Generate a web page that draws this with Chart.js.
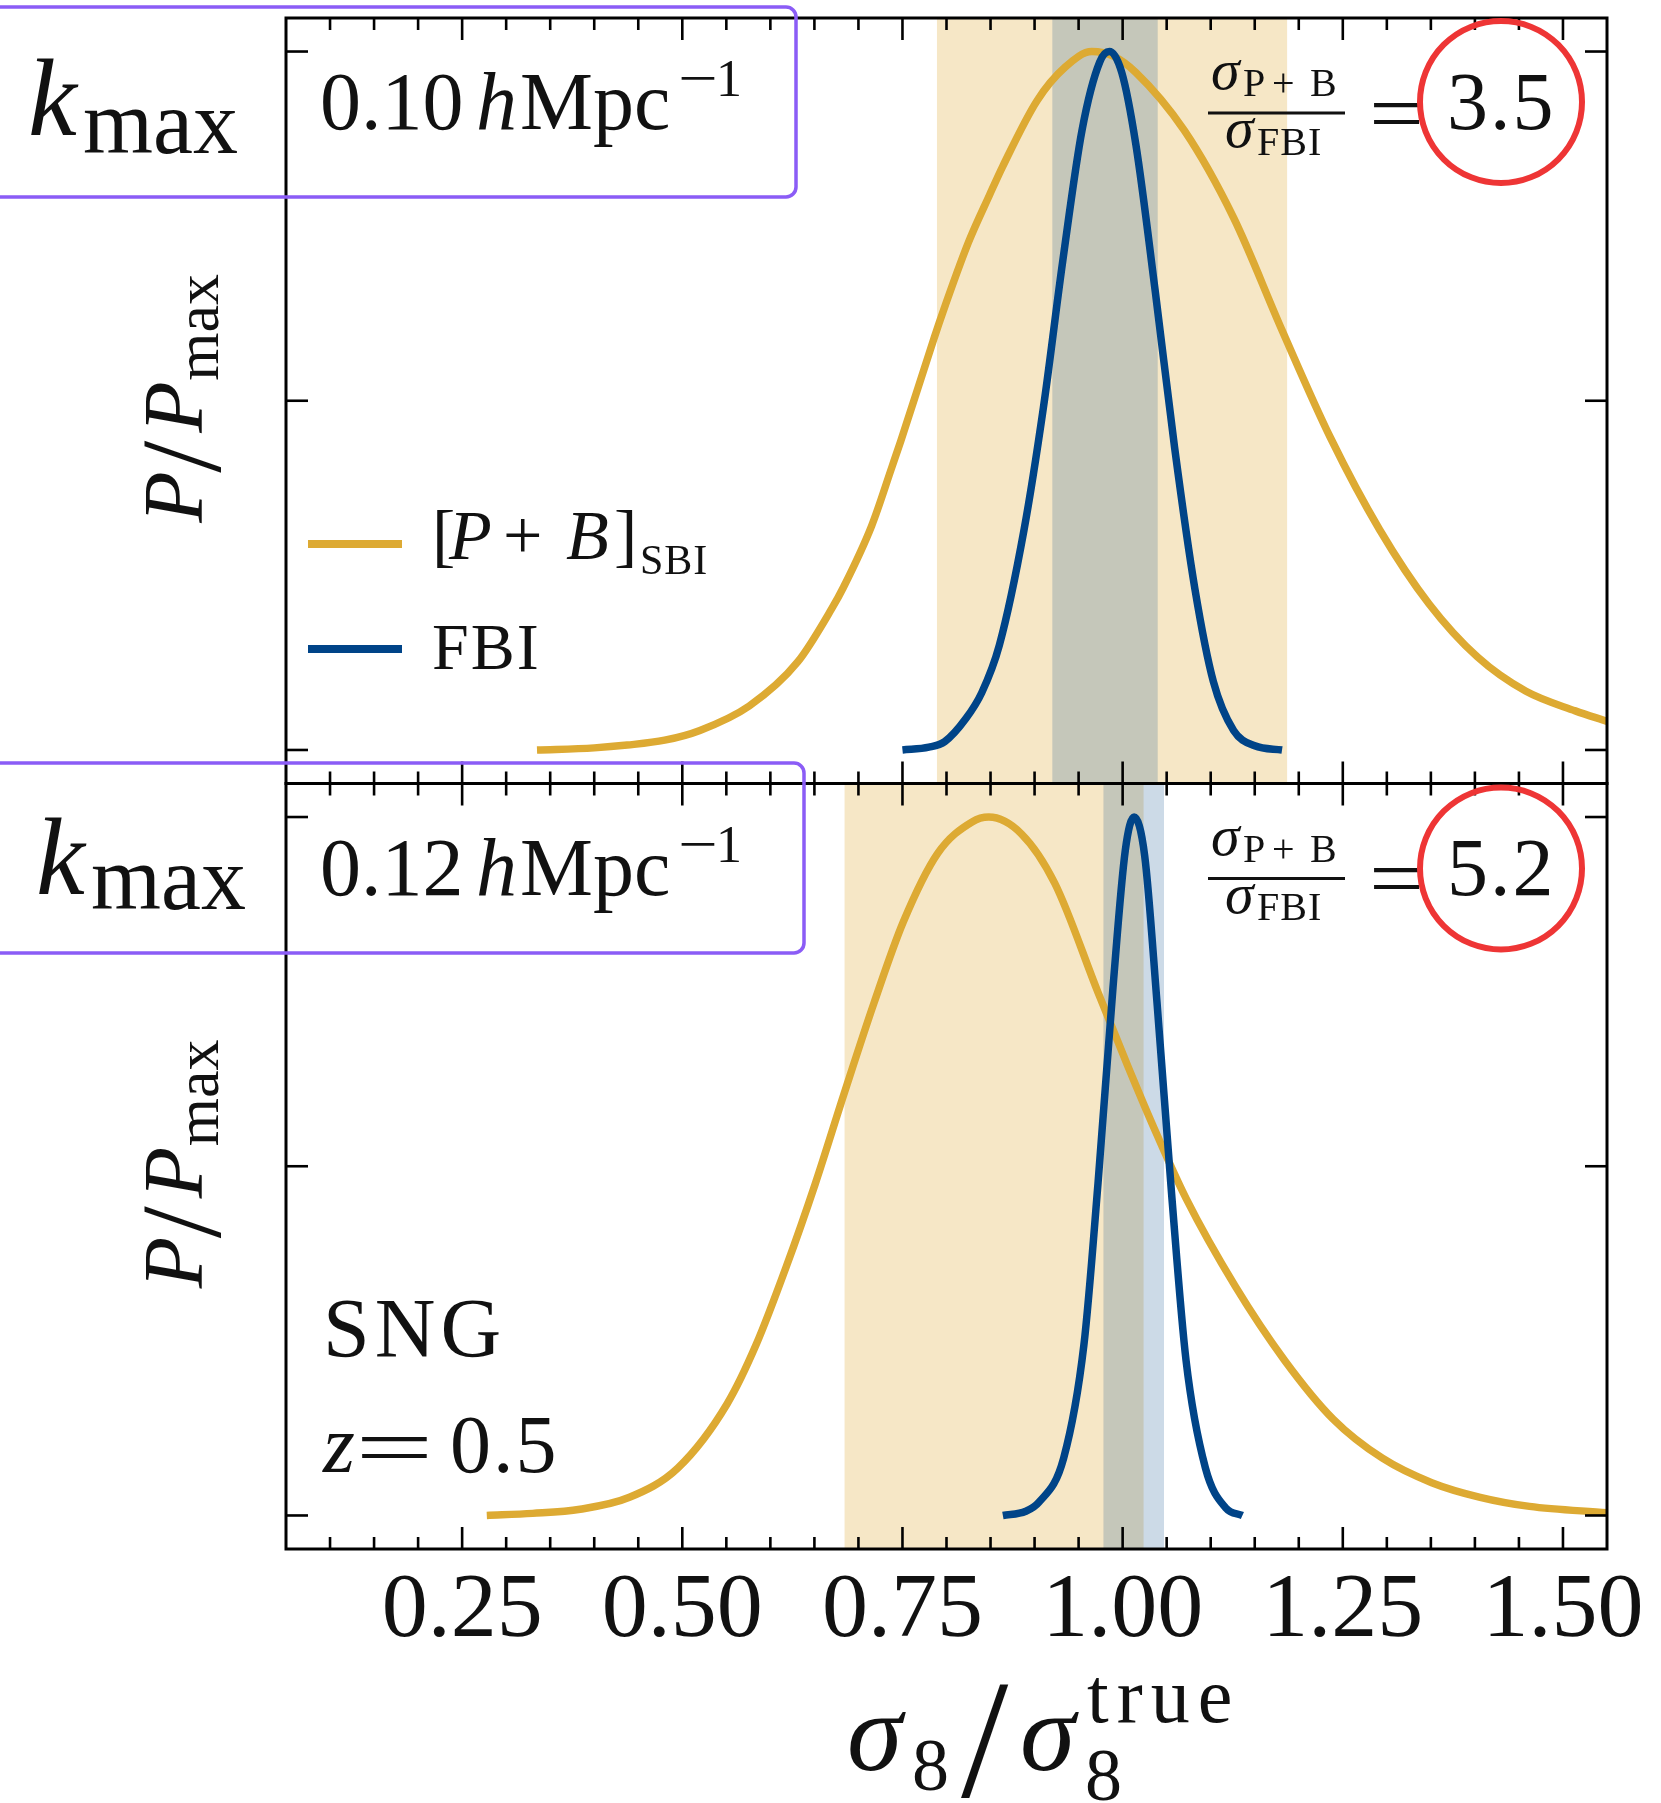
<!DOCTYPE html>
<html><head><meta charset="utf-8">
<script src="https://cdn.jsdelivr.net/npm/chart.js@4.4.1/dist/chart.umd.min.js"></script>
<style>html,body{margin:0;padding:0;background:#fff}canvas{display:block}</style>
</head><body>
<canvas id="c" width="1661" height="1803"></canvas>
<script>
// ---------- data ----------
const X_MIN = 0.05, X_MAX = 1.55, X_STEP = 0.05, X_MAJOR = 0.25;
const Y_MIN = -0.048, Y_MAX = 1.048;
const xLabelValues = [0.25, 0.50, 0.75, 1.00, 1.25, 1.50];
const yTickValues = [0, 0.5, 1];

const kmaxValues = ['0.10', '0.12'];
const ratioValues = ['3.5', '5.2'];
const seriesNames = ['[P+B]SBI', 'FBI'];

// top panel (k_max = 0.10)
const topSbiX = [0.335,0.40,0.4375,0.48,0.52,0.576,0.631,0.670,0.683,0.715,0.738,0.748,0.786,0.794,0.825,0.849,0.864,0.903,0.935,0.965,0.99,1.015,1.07,1.126,1.181,1.236,1.292,1.348,1.403,1.458,1.514,1.55];
const topSbiY = [0.000,0.003,0.007,0.014,0.028,0.063,0.126,0.203,0.233,0.321,0.405,0.442,0.590,0.620,0.727,0.795,0.836,0.930,0.978,1.000,0.993,0.970,0.887,0.762,0.601,0.447,0.315,0.209,0.133,0.084,0.056,0.041];
const topFbiX = [0.750,0.780,0.798,0.822,0.840,0.860,0.888,0.910,0.932,0.954,0.974,0.985,0.999,1.015,1.037,1.059,1.082,1.103,1.126,1.150,1.181];
const topFbiY = [0.000,0.004,0.012,0.045,0.082,0.150,0.315,0.490,0.700,0.888,0.985,1.000,0.970,0.867,0.657,0.433,0.231,0.098,0.028,0.006,0.000];
const topSbiBand = [0.789, 1.187];
const topFbiBand = [0.920, 1.040];

// bottom panel (k_max = 0.12)
const botSbiX = [0.278,0.330,0.384,0.440,0.495,0.551,0.584,0.618,0.651,0.684,0.718,0.751,0.790,0.829,0.848,0.885,0.923,0.972,1.006,1.039,1.072,1.128,1.184,1.239,1.295,1.351,1.406,1.462,1.550];
const botSbiY = [0.000,0.003,0.009,0.026,0.068,0.160,0.245,0.356,0.475,0.605,0.735,0.850,0.948,0.993,1.000,0.976,0.905,0.749,0.643,0.545,0.454,0.328,0.222,0.138,0.082,0.047,0.026,0.013,0.004];
const botFbiX = [0.864,0.890,0.905,0.933,0.956,0.972,0.989,1.003,1.013,1.025,1.039,1.056,1.072,1.094,1.117,1.136];
const botFbiY = [0.000,0.006,0.019,0.082,0.244,0.475,0.755,0.952,1.000,0.945,0.735,0.454,0.222,0.068,0.011,0.000];
const botSbiBand = [0.684, 1.024];
const botFbiBand = [0.978, 1.047];

// ---------- styles ----------
const YELLOW = '#DDAA33', BLUE = '#004488';
const YELLOW_BAND = 'rgba(221,170,51,0.28)', BLUE_BAND = 'rgba(0,68,136,0.20)';
const FONT = '"Liberation Serif", "DejaVu Serif", serif';

function pts(xs, ys) { return xs.map((x, i) => ({x: x, y: ys[i]})); }
function bandPts(r) { return [{x: r[0], y: Y_MAX}, {x: r[1], y: Y_MAX}]; }

function curve(label, xs, ys, color, axis, order) {
  return {label, data: pts(xs, ys), yAxisID: axis, borderColor: color, borderWidth: 7.5,
    pointRadius: 0, fill: false, cubicInterpolationMode: 'monotone', order, borderJoinStyle: 'round'};
}
function band(r, color, axis, order) {
  return {label: 'band', data: bandPts(r), yAxisID: axis, borderColor: 'rgba(0,0,0,0)', borderWidth: 0,
    pointRadius: 0, backgroundColor: color, fill: {value: Y_MIN}, order, tension: 0};
}

const datasets = [
  band(topSbiBand, YELLOW_BAND, 'yTop', 10),
  band(topFbiBand, BLUE_BAND, 'yTop', 9),
  curve(seriesNames[0], topSbiX, topSbiY, YELLOW, 'yTop', 2),
  curve(seriesNames[1], topFbiX, topFbiY, BLUE, 'yTop', 1),
  band(botSbiBand, YELLOW_BAND, 'yBot', 10),
  band(botFbiBand, BLUE_BAND, 'yBot', 9),
  curve(seriesNames[0], botSbiX, botSbiY, YELLOW, 'yBot', 2),
  curve(seriesNames[1], botFbiX, botFbiY, BLUE, 'yBot', 1),
];

// ---------- drawing helpers ----------
function T(ctx, s, x, y, size, opt) {
  opt = opt || {};
  ctx.font = (opt.italic ? 'italic ' : '') + size + 'px ' + FONT;
  ctx.textAlign = opt.align || 'left';
  ctx.textBaseline = 'alphabetic';
  if ('letterSpacing' in ctx) ctx.letterSpacing = (opt.ls || 0) + 'px';
  ctx.fillStyle = '#111';
  if (opt.sx) { ctx.save(); ctx.translate(x, y); ctx.scale(opt.sx, 1); ctx.fillText(s, 0, 0); ctx.restore(); }
  else ctx.fillText(s, x, y);
  if ('letterSpacing' in ctx) ctx.letterSpacing = '0px';
}
// "=" sign fitted to a horizontal span and centred on cy
function EQ(ctx, x1, x2, cy, size) {
  ctx.font = size + 'px ' + FONT;
  ctx.textAlign = 'left';
  ctx.textBaseline = 'alphabetic';
  ctx.fillStyle = '#111';
  const m = ctx.measureText('=');
  const gw = (m.actualBoundingBoxLeft + m.actualBoundingBoxRight) || (size * 0.56);
  const mid = (m.actualBoundingBoxAscent - m.actualBoundingBoxDescent) / 2;
  ctx.save();
  ctx.translate(x1, cy + mid);
  ctx.scale((x2 - x1) / gw, 1);
  ctx.fillText('=', m.actualBoundingBoxLeft, 0);
  ctx.restore();
}
function seg(ctx, x1, y1, x2, y2) { ctx.beginPath(); ctx.moveTo(x1, y1); ctx.lineTo(x2, y2); ctx.stroke(); }
function isMajor(v) { return Math.abs(v / X_MAJOR - Math.round(v / X_MAJOR)) < 1e-6; }

const decor = {
  id: 'decor',
  afterDraw(chart) {
    const ctx = chart.ctx;
    const xs = chart.scales.x;
    const panels = [chart.scales.yTop, chart.scales.yBot];
    const L = xs.left, R = xs.right;
    ctx.save();
    ctx.strokeStyle = '#000';
    ctx.lineCap = 'butt';
    // frames and inward ticks
    panels.forEach(ys => {
      const Tp = ys.top, B = ys.bottom;
      ctx.lineWidth = 3;
      ctx.strokeRect(L, Tp, R - L, B - Tp);
      ctx.lineWidth = 2.6;
      xs.ticks.forEach(t => {
        const px = xs.getPixelForValue(t.value);
        if (px <= L + 3 || px >= R - 3) return;
        const len = isMajor(t.value) ? 22 : 12;
        seg(ctx, px, Tp, px, Tp + len);
        seg(ctx, px, B, px, B - len);
      });
      ys.ticks.forEach(t => {
        const py = ys.getPixelForValue(t.value);
        seg(ctx, L, py, L + 22, py);
        seg(ctx, R, py, R - 22, py);
      });
    });

    const dy = panels[1].top - panels[0].top;
    const kX = [28, 36], kBase = [135, 894], maxBase = [153, 909];
    const boxTop = [7, 763], boxBot = [197, 953], boxRight = [796, 804];

    panels.forEach((ys, i) => {
      const off = i * dy;
      // y label P/P_max (rotated)
      const cy = (ys.top + ys.bottom) / 2;
      ctx.save();
      ctx.translate(202, cy + 122);
      ctx.rotate(-Math.PI / 2);
      T(ctx, 'P', 0, 0, 84, {italic: true});
      T(ctx, '/', 50, 18, 115);
      T(ctx, 'P', 90, 0, 84, {italic: true});
      T(ctx, 'max', 142, 16, 62);
      ctx.restore();

      // k_max label
      T(ctx, 'k', kX[i], kBase[i], 110, {italic: true});
      T(ctx, 'max', kX[i] + 55, maxBase[i], 90);
      // k value
      const b = 129 + off;
      T(ctx, kmaxValues[i], 320, b, 82);
      T(ctx, 'h', 476, b, 82, {italic: true});
      T(ctx, 'Mpc', 520, b, 82);
      T(ctx, '\u2212', 678, 96 + off, 54, {sx: 1.3});
      T(ctx, '1', 716, 96 + off, 52);

      // ratio sigma_{P+B} / sigma_FBI = value
      T(ctx, '\u03C3', 1211, 89 + off, 58, {italic: true});
      T(ctx, 'P', 1243, 96 + off, 40);
      T(ctx, '+', 1272, 96 + off, 40);
      T(ctx, 'B', 1310, 96 + off, 40);
      ctx.lineWidth = 3; ctx.strokeStyle = '#111';
      seg(ctx, 1208, 113 + off, 1345, 113 + off);
      T(ctx, '\u03C3', 1225, 147 + off, 58, {italic: true});
      T(ctx, 'FBI', 1257, 154.5 + off, 40, {ls: 1});
      EQ(ctx, 1374, 1420, 113 + off, 82);
      T(ctx, ratioValues[i], 1447, 129 + off, 82, {ls: 2});

      // red circle
      ctx.strokeStyle = '#EE3535';
      ctx.lineWidth = 6;
      ctx.beginPath();
      ctx.arc(1501, 102 + off + (i ? 1 : 0), 81, 0, Math.PI * 2);
      ctx.stroke();

      // purple box
      ctx.strokeStyle = '#8B5CF6';
      ctx.lineWidth = 3.5;
      ctx.beginPath();
      ctx.roundRect(-20, boxTop[i], boxRight[i] + 20, boxBot[i] - boxTop[i], 10);
      ctx.stroke();
    });

    // legend (top panel)
    ctx.lineWidth = 8;
    ctx.strokeStyle = chart.data.datasets[2].borderColor;
    seg(ctx, 308, 544, 402, 544);
    ctx.strokeStyle = chart.data.datasets[3].borderColor;
    seg(ctx, 308, 649, 402, 649);
    T(ctx, '[', 432, 559, 70);
    T(ctx, 'P', 449, 559, 70, {italic: true});
    T(ctx, '+', 503, 559, 70);
    T(ctx, 'B', 566, 559, 70, {italic: true});
    T(ctx, ']', 614, 559, 70);
    T(ctx, 'SBI', 640, 574, 42, {ls: 1});
    T(ctx, 'FBI', 432, 669, 66, {ls: 2});

    // SNG, z = 0.5 (bottom panel)
    T(ctx, 'SNG', 323, 1357, 84, {ls: 5});
    T(ctx, 'z', 323, 1472, 82, {italic: true});
    EQ(ctx, 362, 428, 1447, 82);
    T(ctx, '0.5', 450, 1472, 82, {ls: 2});

    // x title sigma_8 / sigma_8^true
    T(ctx, '\u03C3', 847, 1770, 112, {italic: true});
    T(ctx, '8', 912, 1790, 74);
    T(ctx, '/', 961, 1796, 170);
    T(ctx, '\u03C3', 1020, 1770, 112, {italic: true});
    T(ctx, '8', 1085, 1800, 74);
    T(ctx, 'true', 1087, 1722, 78, {ls: 8});
    ctx.restore();
  }
};

new Chart(document.getElementById('c'), {
  type: 'line',
  data: {datasets},
  plugins: [decor],
  options: {
    responsive: false,
    animation: false,
    devicePixelRatio: 1,
    layout: {padding: {left: 286, right: 54, top: 18, bottom: 0}, autoPadding: false},
    plugins: {legend: {display: false}, tooltip: {enabled: false}, title: {display: false}},
    scales: {
      x: {
        type: 'linear', position: 'bottom', min: X_MIN, max: X_MAX,
        grid: {display: false}, border: {display: false},
        ticks: {
          stepSize: X_STEP, autoSkip: false, maxRotation: 0, minRotation: 0, padding: 0,
          color: '#111', font: {family: FONT, size: 92, lineHeight: 1.2},
          callback: (v) => {
            const hit = xLabelValues.find(l => Math.abs(l - v) < 1e-6);
            return hit === undefined ? '' : hit.toFixed(2);
          }
        },
        afterFit: (s) => { s.height = 254; }
      },
      yTop: {
        type: 'linear', position: 'left', stack: 'panels', stackWeight: 1, weight: 2,
        min: Y_MIN, max: Y_MAX, grid: {display: false}, border: {display: false},
        ticks: {display: false},
        afterBuildTicks: (s) => { s.ticks = yTickValues.map(v => ({value: v})); },
        afterFit: (s) => { s.width = 0; }
      },
      yBot: {
        type: 'linear', position: 'left', stack: 'panels', stackWeight: 1, weight: 1,
        min: Y_MIN, max: Y_MAX, grid: {display: false}, border: {display: false},
        ticks: {display: false},
        afterBuildTicks: (s) => { s.ticks = yTickValues.map(v => ({value: v})); },
        afterFit: (s) => { s.width = 0; }
      }
    }
  }
});
</script>
</body></html>
